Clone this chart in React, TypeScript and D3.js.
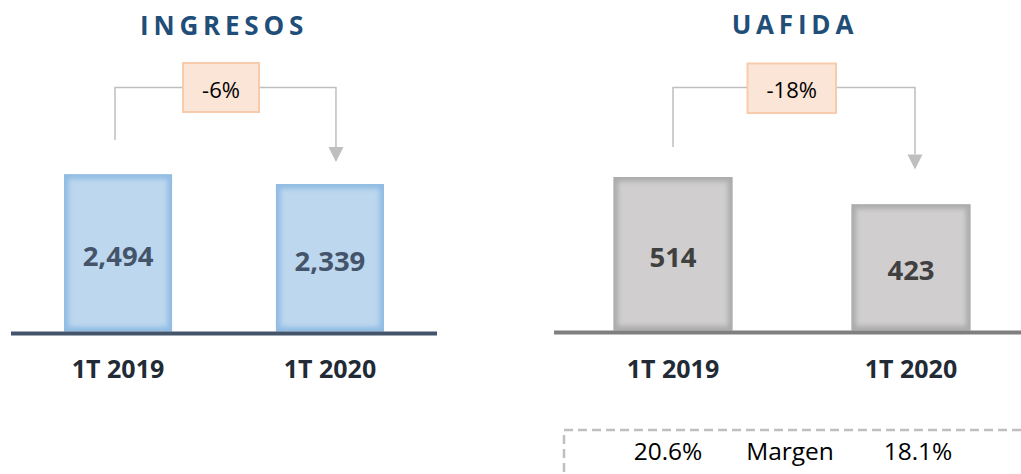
import React from "react";
import * as d3 from "d3";

const categories = ["1T 2019", "1T 2020"];
const ingresos = [2494, 2339];
const uafida = [514, 423];
const ingresosLabels = ["2,494", "2,339"];
const uafidaLabels = ["514", "423"];
const changes = ["-6%", "-18%"];
const margins = ["20.6%", "18.1%"];
const marginLabel = "Margen";
const titles = ["INGRESOS", "UAFIDA"];

const FONT = "'Open Sans', 'Liberation Sans', sans-serif";

type PanelCfg = {
  title: string;
  titleX: number;
  titleY: number;
  values: number[];
  labels: string[];
  x: d3.ScaleBand<string>;
  y: d3.ScaleLinear<number, number>;
  baseY: number;
  baseX0: number;
  baseX1: number;
  baseColor: string;
  fill: string;
  edge: string;
  valueColor: string;
  change: string;
  box: { x0: number; x1: number; y0: number; y1: number };
  conn: { lx: number; ly: number; rx: number; ry: number; lineY: number };
  id: string;
};

function Panel({ c }: { c: PanelCfg }) {
  const bw = c.x.bandwidth();
  const arrowW = 15;
  const arrowH = 15;
  return (
    <g>
      <text
        x={c.titleX + 2.4}
        y={c.titleY}
        textAnchor="middle"
        fontFamily={FONT}
        fontWeight={700}
        fontSize={26}
        letterSpacing={4.8}
        fill="#1F4E79"
      >
        {c.title}
      </text>
      <path
        d={`M${c.conn.lx},${c.conn.ly} V${c.conn.lineY} H${c.box.x0} M${c.box.x1},${c.conn.lineY} H${c.conn.rx} V${c.conn.ry - arrowH}`}
        fill="none"
        stroke="#BFBFBF"
        strokeWidth={1.5}
      />
      <path
        d={`M${c.conn.rx - arrowW / 2},${c.conn.ry - arrowH} L${c.conn.rx + arrowW / 2},${c.conn.ry - arrowH} L${c.conn.rx},${c.conn.ry} Z`}
        fill="#BFBFBF"
      />
      <rect
        x={c.box.x0}
        y={c.box.y0}
        width={c.box.x1 - c.box.x0}
        height={c.box.y1 - c.box.y0}
        fill="#FBE5D6"
        stroke="#F8CBAD"
        strokeWidth={2}
      />
      <text
        x={(c.box.x0 + c.box.x1) / 2}
        y={97.5}
        textAnchor="middle"
        fontFamily={FONT}
        fontSize={22}
        fill="#000"
      >
        {c.change}
      </text>
      {categories.map((cat, i) => {
        const x0 = c.x(cat)!;
        const yTop = c.y(c.values[i]);
        const yBot = c.y(0);
        const h = yBot - yTop;
        const cid = `${c.id}-clip-${i}`;
        return (
          <g key={cat}>
            <clipPath id={cid}>
              <rect x={x0} y={yTop} width={bw} height={h} />
            </clipPath>
            <rect x={x0} y={yTop} width={bw} height={h} fill={c.fill} />
            <g clipPath={`url(#${cid})`}>
              <rect
                x={x0}
                y={yTop}
                width={bw}
                height={h}
                fill="none"
                stroke={c.edge}
                strokeWidth={9}
                filter={`url(#${c.id}-blur)`}
              />
            </g>
            <text
              x={x0 + bw / 2}
              y={(yTop + yBot) / 2 + 13}
              textAnchor="middle"
              fontFamily={FONT}
              fontWeight={700}
              fontSize={27.5}
              fill={c.valueColor}
            >
              {c.labels[i]}
            </text>
            <text
              x={x0 + bw / 2}
              y={378}
              textAnchor="middle"
              fontFamily={FONT}
              fontWeight={700}
              fontSize={25}
              fill="#222A35"
            >
              {cat}
            </text>
          </g>
        );
      })}
      <line
        x1={c.baseX0}
        x2={c.baseX1}
        y1={c.baseY}
        y2={c.baseY}
        stroke={c.baseColor}
        strokeWidth={4}
      />
    </g>
  );
}

export default function App() {
  const xL = d3.scaleBand<string>().domain(categories).range([11, 437]).paddingInner(0.49).paddingOuter(0.25);
  const yL = d3.scaleLinear().domain([0, 2700]).range([331.5, 331.5 - 2700 * 0.06303]);
  const xR = d3.scaleBand<string>().domain(categories).range([554, 1030]).paddingInner(0.5).paddingOuter(0.25);
  const yR = d3.scaleLinear().domain([0, 600]).range([330.5, 330.5 - 600 * 0.2986]);

  const cL = (i: number) => xL(categories[i])! + xL.bandwidth() / 2;
  const cR = (i: number) => xR(categories[i])! + xR.bandwidth() / 2;

  const left: PanelCfg = {
    id: "ing",
    title: titles[0],
    titleX: 221.7,
    titleY: 35,
    values: ingresos,
    labels: ingresosLabels,
    x: xL,
    y: yL,
    baseY: 333.5,
    baseX0: 11,
    baseX1: 437,
    baseColor: "#44546A",
    fill: "#BDD7EE",
    edge: "#8FBBE3",
    valueColor: "#44546A",
    change: changes[0],
    box: { x0: 183, x1: 259, y0: 63, y1: 112 },
    conn: { lx: cL(0) - 3, ly: 140, rx: cL(1) + 6, ry: 162, lineY: 87.5 },
  };
  const right: PanelCfg = {
    id: "uaf",
    title: titles[1],
    titleX: 792.5,
    titleY: 34,
    values: uafida,
    labels: uafidaLabels,
    x: xR,
    y: yR,
    baseY: 332.5,
    baseX0: 554,
    baseX1: 1030,
    baseColor: "#7F7F7F",
    fill: "#D0CECE",
    edge: "#ABABAB",
    valueColor: "#404040",
    change: changes[1],
    box: { x0: 747.5, x1: 836, y0: 63.5, y1: 113 },
    conn: { lx: cR(0), ly: 147, rx: cR(1) + 4, ry: 169.5, lineY: 87.5 },
  };

  const mCenters = [cR(0) - 5, 790, cR(1) + 7];

  return (
    <svg
      width={1021}
      height={474}
      style={{ position: "absolute", left: 0, top: 0, background: "#fff" }}
    >
      <defs>
        <filter id="ing-blur" x="-20%" y="-20%" width="140%" height="140%">
          <feGaussianBlur stdDeviation={2.5} />
        </filter>
        <filter id="uaf-blur" x="-20%" y="-20%" width="140%" height="140%">
          <feGaussianBlur stdDeviation={2.5} />
        </filter>
      </defs>
      <rect width={1021} height={474} fill="#fff" />
      <Panel c={left} />
      <Panel c={right} />
      <rect
        x={564}
        y={430}
        width={480}
        height={80}
        fill="none"
        stroke="#BFBFBF"
        strokeWidth={2.5}
        strokeDasharray="9,5"
      />
      {[margins[0], marginLabel, margins[1]].map((t, i) => (
        <text
          key={i}
          x={mCenters[i]}
          y={459.5}
          textAnchor="middle"
          fontFamily={FONT}
          fontSize={24.5}
          fill="#000"
        >
          {t}
        </text>
      ))}
    </svg>
  );
}
